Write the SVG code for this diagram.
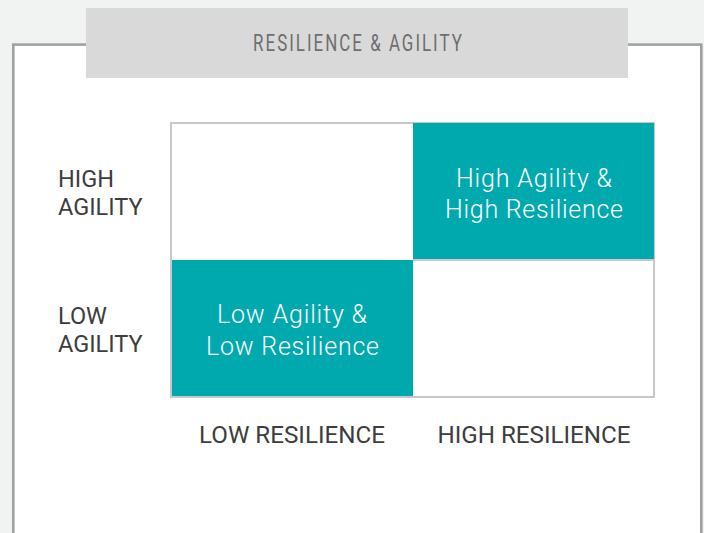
<svg xmlns="http://www.w3.org/2000/svg" width="704" height="533" viewBox="0 0 704 533">
<style>
.lbl{font-family:Roboto,"Liberation Sans",sans-serif;font-size:23.5px;fill:#3d3d3d}
.cell{font-family:Roboto,"Liberation Sans",sans-serif;font-weight:300;font-size:25px;fill:#ffffff;text-anchor:middle}
.teal{fill:#00a9ae}
</style>
<rect x="0" y="0" width="704" height="533" fill="#f1f2f2"/>
<rect x="13.3" y="44.6" width="688" height="500" fill="#ffffff" stroke="#a0a1a4" stroke-width="2.6"/>
<g id="title">
<rect x="86" y="8" width="542" height="70" fill="#d9d9d9"/>
<text transform="translate(357.5,51) scale(0.72,1)" x="0" y="0" text-anchor="middle" font-family="Roboto,'Liberation Sans',sans-serif" font-weight="400" font-size="23.5" textLength="290" lengthAdjust="spacing" fill="#6e6e6e">RESILIENCE &amp; AGILITY</text>
</g>
<g id="grid">
<rect x="171" y="123" width="483" height="274" fill="#ffffff" stroke="#c8c8c8" stroke-width="2"/>
<line x1="413" y1="260" x2="654" y2="260" stroke="#c8c8c8" stroke-width="2"/>
</g>
<g id="high-high">
<rect class="teal" x="413" y="123" width="241" height="136"/>
<text class="cell" x="534" y="186.5" textLength="156" lengthAdjust="spacing">High Agility &amp;</text>
<text class="cell" x="534" y="217.5" textLength="178" lengthAdjust="spacing">High Resilience</text>
</g>
<g id="low-low">
<rect class="teal" x="172" y="260" width="241" height="136"/>
<text class="cell" x="292" y="322.5" textLength="150" lengthAdjust="spacing">Low Agility &amp;</text>
<text class="cell" x="292.5" y="354.5" textLength="173" lengthAdjust="spacing">Low Resilience</text>
</g>
<g id="axis-y">
<text class="lbl" x="58" y="187">HIGH</text>
<text class="lbl" x="58" y="215">AGILITY</text>
<text class="lbl" x="58" y="324">LOW</text>
<text class="lbl" x="58" y="352">AGILITY</text>
</g>
<g id="axis-x">
<text class="lbl" x="292" y="443" text-anchor="middle" textLength="186" lengthAdjust="spacingAndGlyphs">LOW RESILIENCE</text>
<text class="lbl" x="534" y="443" text-anchor="middle" textLength="193" lengthAdjust="spacingAndGlyphs">HIGH RESILIENCE</text>
</g>
</svg>
